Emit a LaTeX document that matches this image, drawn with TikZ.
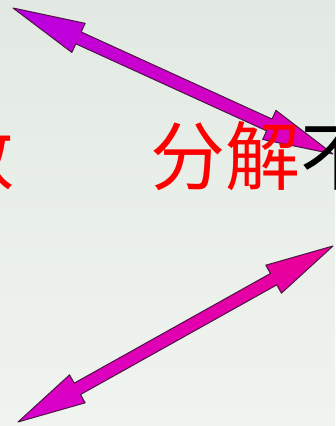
\documentclass[tikz,border=0pt]{standalone}
\usepackage{fontspec}
\newfontfamily\cjk{Noto Sans CJK SC}
\usetikzlibrary{calc}
\definecolor{bgtop}{RGB}{226,233,226}
\definecolor{bgbot}{RGB}{240,244,240}
\definecolor{arrA}{RGB}{185,0,225}
\definecolor{arrB}{RGB}{225,0,180}
\definecolor{arrC}{RGB}{235,0,150}
\definecolor{arrD}{RGB}{215,0,205}
\definecolor{arrEdge}{RGB}{75,20,65}
\tikzset{
  dblarrowshape/.style={draw=arrEdge, line width=1pt, line join=round},
  upperarrow/.style={dblarrowshape, left color=arrA, right color=arrB},
  lowerarrow/.style={dblarrowshape, top color=arrC, bottom color=arrD},
  bigcjk/.style={font=\cjk\fontsize{75}{75}\selectfont, inner sep=0pt, outer sep=0pt},
}
\newcommand{\mkdblarrow}[5]{% style, tip1, tip2, head length 1, head length 2
  \path ($(#2)!#4!(#3)$) coordinate (h1) ($(#3)!#5!(#2)$) coordinate (h2);
  \draw[#1] (#2) -- ($(h1)!16pt!90:(#2)$) -- ($(h1)!6.5pt!90:(#2)$)
    -- ($(h2)!6.5pt!-90:(#3)$) -- ($(h2)!16pt!-90:(#3)$) -- (#3)
    -- ($(h2)!16pt!90:(#3)$) -- ($(h2)!6.5pt!90:(#3)$)
    -- ($(h1)!6.5pt!-90:(#2)$) -- ($(h1)!16pt!-90:(#2)$) -- cycle;
}
\begin{document}
\begin{tikzpicture}[x=1pt,y=-1pt]
  \useasboundingbox (0,0) rectangle (335,426);
  \clip (0,0) rectangle (335,426);
  \shade[top color=bgtop, bottom color=bgbot] (0,0) rectangle (335,426);
  % arrows
  \coordinate (a1s) at (13,8);
  \coordinate (a1e) at (333,154);
  \coordinate (a2s) at (18,422);
  \coordinate (a2e) at (333,246);
  \mkdblarrow{upperarrow}{a1s}{a1e}{72pt}{70pt}
  \mkdblarrow{lowerarrow}{a2s}{a2e}{68pt}{68pt}
  % text
  \node[bigcjk, text=red, anchor=east] (left) at (15,156) {数};
  \node[bigcjk, anchor=west] (fenjie) at (150,156) {\textcolor{red}{分解}不};
\end{tikzpicture}
\end{document}
